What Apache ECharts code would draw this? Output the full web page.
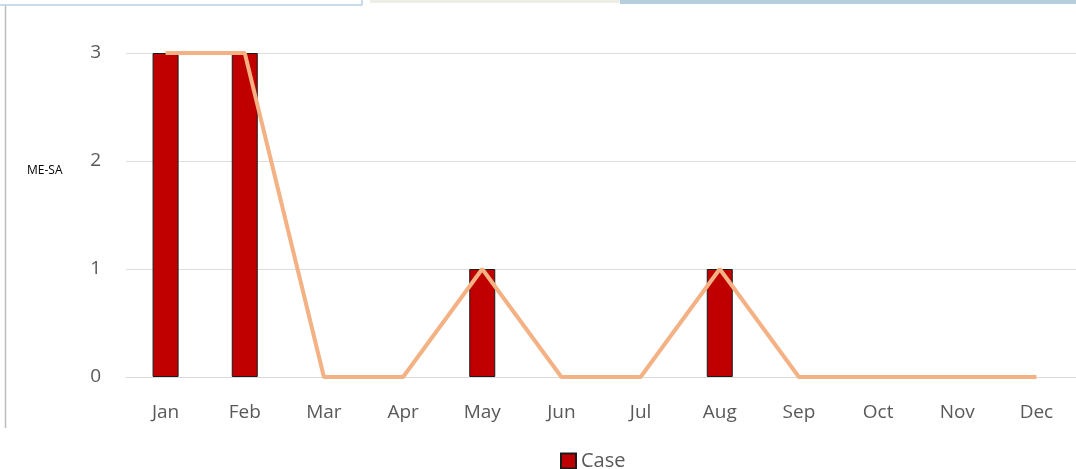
<!DOCTYPE html>
<html>
<head>
<meta charset="utf-8">
<script src="https://cdn.jsdelivr.net/npm/echarts@6/dist/echarts.min.js"></script>
<style>html,body{margin:0;padding:0;background:#fff}#c{width:1076px;height:469px}</style>
</head>
<body>
<div id="c"></div>
<script>
const categories = ['Jan','Feb','Mar','Apr','May','Jun','Jul','Aug','Sep','Oct','Nov','Dec'];
const caseValues = [3,3,0,0,1,0,0,1,0,0,0,0];
const trendValues = [3,3,0,0,1,0,0,1,0,0,0,0];
const yTicks = [0,1,2,3];

const chart = echarts.init(document.getElementById('c'));
chart.setOption({
  animation: false,
  textStyle: { fontFamily: 'Open Sans, Lato, sans-serif' },
  grid: { left: 126, width: 954, top: 53, height: 324 },
  legend: {
    data: [{ name: 'Case', icon: 'rect' }],
    top: 446, left: 555, itemWidth: 15, itemHeight: 15, itemGap: 4,
    textStyle: { fontSize: 20, color: '#595959', padding: [0, 0, 0, 0] }
  },
  xAxis: {
    type: 'category', data: categories,
    axisLine: { lineStyle: { color: '#d9d9d9', width: 1 } },
    axisTick: { show: false },
    axisLabel: { fontSize: 19, color: '#595959', margin: 26 }
  },
  yAxis: {
    type: 'value', min: yTicks[0], max: yTicks[yTicks.length-1], interval: 1,
    axisLine: { show: false }, axisTick: { show: false },
    axisLabel: { fontSize: 19, color: '#595959', margin: 25 },
    splitLine: { lineStyle: { color: '#dedede', width: 1 } }
  },
  graphic: [
    { type: 'text', left: 27, top: 165, style: { text: 'ME-SA', fontSize: 12, fill: '#000', fontFamily: 'Open Sans, sans-serif' } },
    { type: 'line', shape: { x1: 5.5, y1: 0, x2: 5.5, y2: 428 }, style: { stroke: '#bdbdbd', lineWidth: 1.5 } },
    { type: 'rect', shape: { x: -2, y: -5, width: 364, height: 10 }, style: { fill: '#fff', stroke: '#b9d0e6', lineWidth: 1.5 } },
    { type: 'rect', shape: { x: 370, y: 0, width: 250, height: 3 }, style: { fill: '#ecefe6' } },
    { type: 'rect', shape: { x: 620, y: 0, width: 456, height: 4 }, style: { fill: '#b5d0dc' } }
  ],
  series: [
    {
      name: 'Case', type: 'bar', barWidth: 26,
      data: caseValues.map(v => v === 0 ? { value: v, itemStyle: { borderWidth: 0, opacity: 0 } } : v),
      itemStyle: { color: '#c00000', borderColor: '#1a1a1a', borderWidth: 1 }
    },
    {
      name: 'Trend', type: 'line', data: trendValues, symbol: 'none',
      lineStyle: { color: '#f4b183', width: 4 }, z: 3
    }
  ]
});
</script>
</body>
</html>
